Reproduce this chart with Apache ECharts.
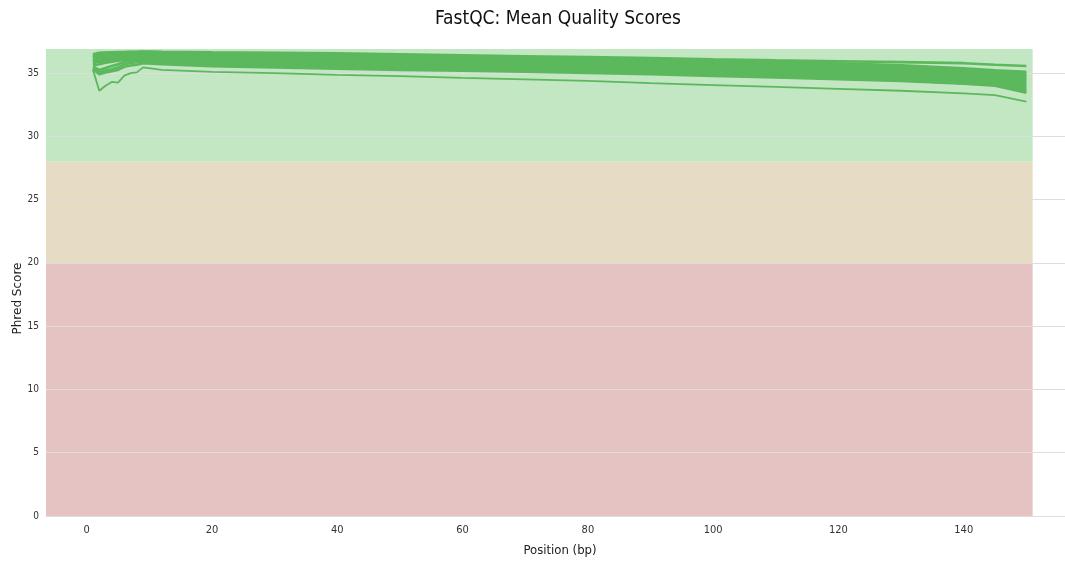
<!DOCTYPE html>
<html>
<head>
<meta charset="utf-8">
<title>FastQC: Mean Quality Scores</title>
<script src="https://cdn.jsdelivr.net/npm/echarts@6/dist/echarts.min.js"></script>
<style>
  html, body { margin: 0; padding: 0; background: #fff; }
  #chart { width: 1065px; height: 562px; }
</style>
</head>
<body>
<div id="chart"></div>
<script>
// Read positions (bp) at which each sample's mean Phred score is plotted
const positions = [1, 2, 3, 4, 5, 6, 7, 8, 9, 12, 20, 30, 40, 50, 60, 70, 80, 90, 100, 110, 120, 130, 140, 145, 150];

// Mean quality per position, one array per sample
const sample01 = [36.48, 36.60, 36.62, 36.64, 36.65, 36.66, 36.67, 36.68, 36.70, 36.68, 36.64, 36.60, 36.56, 36.48, 36.40, 36.33, 36.26, 36.18, 36.08, 36.00, 35.93, 35.86, 35.78, 35.66, 35.56];
const sample02 = [36.42, 36.56, 36.60, 36.61, 36.62, 36.64, 36.65, 36.66, 36.67, 36.63, 36.58, 36.53, 36.47, 36.40, 36.32, 36.24, 36.16, 36.08, 35.98, 35.88, 35.78, 35.62, 35.38, 35.22, 35.10];
const sample03 = [36.30, 36.52, 36.56, 36.57, 36.59, 36.61, 36.62, 36.63, 36.63, 36.57, 36.51, 36.45, 36.40, 36.31, 36.23, 36.15, 36.07, 35.99, 35.89, 35.78, 35.68, 35.53, 35.30, 35.15, 34.98];
const sample04 = [36.45, 36.43, 36.48, 36.50, 36.53, 36.55, 36.56, 36.58, 36.58, 36.50, 36.43, 36.37, 36.31, 36.22, 36.13, 36.05, 35.97, 35.88, 35.78, 35.66, 35.55, 35.40, 35.20, 35.05, 34.85];
const sample05 = [36.20, 36.35, 36.42, 36.44, 36.47, 36.50, 36.52, 36.53, 36.55, 36.45, 36.36, 36.30, 36.23, 36.13, 36.05, 35.97, 35.90, 35.80, 35.69, 35.57, 35.45, 35.30, 35.10, 34.95, 34.72];
const sample06 = [36.00, 36.25, 36.33, 36.36, 36.40, 36.43, 36.45, 36.46, 36.48, 36.36, 36.27, 36.20, 36.13, 36.03, 35.95, 35.88, 35.80, 35.70, 35.59, 35.46, 35.34, 35.20, 35.00, 34.85, 34.60];
const sample07 = [36.35, 36.15, 36.25, 36.28, 36.32, 36.36, 36.38, 36.40, 36.42, 36.28, 36.18, 36.10, 36.03, 35.94, 35.86, 35.78, 35.70, 35.60, 35.48, 35.36, 35.23, 35.08, 34.88, 34.74, 34.45];
const sample08 = [35.90, 36.05, 36.15, 36.20, 36.25, 36.30, 36.32, 36.33, 36.35, 36.20, 36.10, 36.02, 35.95, 35.85, 35.77, 35.69, 35.60, 35.50, 35.37, 35.25, 35.12, 34.97, 34.77, 34.62, 34.30];
const sample09 = [35.75, 35.95, 36.05, 36.10, 36.16, 36.22, 36.25, 36.27, 36.29, 36.12, 36.00, 35.92, 35.85, 35.75, 35.67, 35.59, 35.50, 35.39, 35.27, 35.14, 35.00, 34.85, 34.65, 34.50, 34.15];
const sample10 = [36.10, 35.85, 35.95, 36.02, 36.08, 36.14, 36.18, 36.20, 36.22, 36.04, 35.92, 35.83, 35.75, 35.65, 35.57, 35.48, 35.40, 35.29, 35.16, 35.03, 34.88, 34.72, 34.52, 34.38, 34.00];
const sample11 = [35.60, 35.70, 35.82, 35.90, 35.98, 36.05, 36.10, 36.12, 36.15, 35.96, 35.83, 35.74, 35.65, 35.55, 35.47, 35.38, 35.30, 35.18, 35.05, 34.91, 34.76, 34.60, 34.40, 34.25, 33.85];
const sample12 = [35.50, 35.25, 35.40, 35.55, 35.70, 35.90, 35.98, 36.02, 36.05, 35.86, 35.72, 35.63, 35.54, 35.44, 35.36, 35.27, 35.18, 35.07, 34.93, 34.79, 34.64, 34.48, 34.27, 34.12, 33.70];
const sample13 = [35.35, 35.05, 35.20, 35.30, 35.45, 35.70, 35.80, 35.85, 35.90, 35.78, 35.63, 35.53, 35.44, 35.34, 35.27, 35.18, 35.09, 34.98, 34.85, 34.71, 34.57, 34.42, 34.20, 34.05, 33.55];
const sample14 = [35.30, 34.90, 35.05, 35.15, 35.25, 35.50, 35.60, 35.65, 35.78, 35.70, 35.55, 35.45, 35.35, 35.25, 35.18, 35.10, 35.00, 34.90, 34.78, 34.65, 34.52, 34.38, 34.15, 34.00, 33.45];
const sample15 = [35.25, 33.60, 34.00, 34.30, 34.25, 34.80, 35.00, 35.05, 35.45, 35.25, 35.10, 35.00, 34.85, 34.75, 34.62, 34.50, 34.38, 34.20, 34.05, 33.90, 33.75, 33.60, 33.40, 33.25, 32.75];

const samples = [sample01, sample02, sample03, sample04, sample05, sample06, sample07, sample08,
                 sample09, sample10, sample11, sample12, sample13, sample14, sample15];

// Quality zones: [lower score, upper score, fill]
const zoneFail = [0, 20, '#e6c3c3'];
const zoneWarn = [20, 28, '#e6dcc3'];
const zonePass = [28, 36.9, '#c3e6c3'];
const zones = [zoneFail, zoneWarn, zonePass];

// Horizontal extent of the zone shading (bp)
const zoneStart = -6.5;
const zoneEnd = 151;

const lineColour = '#5cb85c';
const narrowFont = '"DejaVu Sans Condensed", "DejaVu Sans", sans-serif';

const chart = echarts.init(document.getElementById('chart'), null, { renderer: 'canvas' });

const lineSeries = samples.map((vals, i) => ({
  name: 'sample' + (i + 1),
  type: 'line',
  data: positions.map((p, j) => [p, vals[j]]),
  showSymbol: false,
  symbol: 'none',
  smooth: false,
  z: 3,
  lineStyle: { color: lineColour, width: i === samples.length - 1 ? 1.8 : 2.6, opacity: 1 },
  emphasis: { disabled: true },
  silent: true
}));

const zoneSeries = {
  type: 'line',
  data: [],
  z: 1,
  silent: true,
  markArea: {
    silent: true,
    z: 1,
    data: zones.map(z => [
      { xAxis: zoneStart, yAxis: z[0], itemStyle: { color: z[2], opacity: 1 } },
      { xAxis: zoneEnd, yAxis: z[1] }
    ])
  }
};

chart.setOption({
  animation: false,
  backgroundColor: '#ffffff',
  title: {
    text: 'FastQC: Mean Quality Scores',
    left: 430,
    top: 5,
    textStyle: { fontFamily: narrowFont, fontSize: 19, fontWeight: 'normal', color: '#111' }
  },
  grid: { left: 46, right: -9, top: 49, bottom: 46, containLabel: false, outerBoundsMode: 'none' },
  xAxis: {
    type: 'value',
    min: -6.5,
    max: 157.6,
    splitNumber: 8,
    name: 'Position (bp)',
    nameLocation: 'middle',
    nameGap: 28,
    nameMoveOverlap: false,
    nameTextStyle: { fontFamily: narrowFont, fontSize: 13, color: '#222' },
    axisLine: { show: false },
    axisTick: { show: false },
    splitLine: { show: false },
    axisLabel: {
      showMinLabel: false,
      showMaxLabel: false,
      margin: 9,
      fontFamily: narrowFont,
      fontSize: 11,
      color: '#333'
    }
  },
  yAxis: {
    type: 'value',
    min: 0,
    max: 36.9,
    interval: 5,
    z: 2,
    name: 'Phred Score',
    nameLocation: 'middle',
    nameGap: 22,
    nameMoveOverlap: false,
    nameTextStyle: { fontFamily: '"DejaVu Sans", sans-serif', fontSize: 12, color: '#222', padding: [0, 32, 0, 0] },
    axisLine: { show: false },
    axisTick: { show: false },
    splitLine: { show: true, showMaxLine: false, lineStyle: { color: '#dedede', width: 1.2 } },
    axisLabel: {
      showMaxLabel: false,
      margin: 7,
      fontFamily: narrowFont,
      fontSize: 10,
      color: '#333'
    }
  },
  series: [zoneSeries].concat(lineSeries)
});
</script>
</body>
</html>
